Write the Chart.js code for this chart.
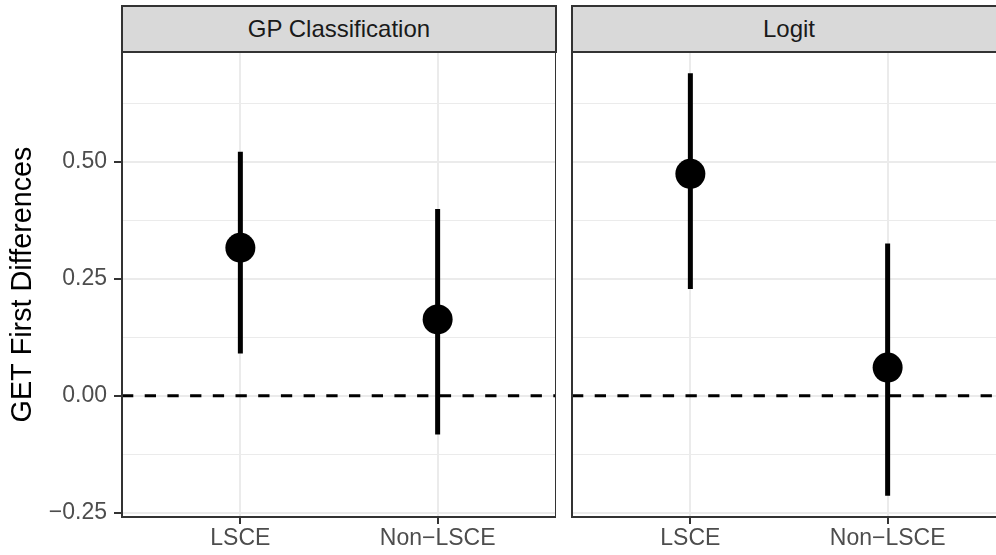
<!DOCTYPE html>
<html>
<head>
<meta charset="utf-8">
<script src="https://cdn.jsdelivr.net/npm/chart.js@4"></script>
<style>
  html, body { margin: 0; padding: 0; background: #ffffff; overflow: hidden; width: 996px; height: 555px; }
  .wrap { position: absolute; top: 0; height: 555px; }
  .strip { position: absolute; top: 5px; height: 48px; box-sizing: border-box; border: 2px solid #333333;
           background: #D9D9D9; color: #1A1A1A; font-family: "Liberation Sans", Arial, sans-serif;
           font-size: 24px; display: flex; align-items: center; justify-content: center; }
</style>
</head>
<body>
<div class="wrap" style="left:0;width:556px;"><canvas id="c1"></canvas></div>
<div class="wrap" style="left:560px;width:446px;"><canvas id="c2"></canvas></div>
<div class="strip" id="s1" style="left:121px;width:436px;"></div>
<div class="strip" id="s2" style="left:571px;width:436px;"></div>
<script>
// ---- data ----
const categories = ['LSCE', 'Non\u2212LSCE'];
const panels = ['GP Classification', 'Logit'];
const gpEstimate = [0.316, 0.163];
const gpLower = [0.090, -0.083];
const gpUpper = [0.521, 0.399];
const logitEstimate = [0.474, 0.060];
const logitLower = [0.228, -0.214];
const logitUpper = [0.689, 0.325];
const yMajorTicks = [-0.25, 0, 0.25, 0.5];
const yMinorTicks = [-0.125, 0.125, 0.375, 0.625];
const yTickLabels = ['\u22120.25', '0.00', '0.25', '0.50'];
const referenceLine = 0;
const yTitle = 'GET First Differences';

// ggplot-like 5% expansion of the shared y range
const allLo = Math.min(...gpLower, ...logitLower);
const allHi = Math.max(...gpUpper, ...logitUpper);
const span = allHi - allLo;
const yMin = allLo - 0.05 * span;
const yMax = allHi + 0.05 * span;

document.getElementById('s1').textContent = panels[0];
document.getElementById('s2').textContent = panels[1];

const FONT = '"Liberation Sans", Arial, sans-serif';
Chart.defaults.font.family = FONT;

const panelPlugin = {
  id: 'panelDeco',
  beforeDatasetsDraw(chart) {
    const {ctx, chartArea, scales} = chart;
    const y = scales.y.getPixelForValue(referenceLine);
    ctx.save();
    ctx.strokeStyle = '#000000';
    ctx.lineWidth = 3;
    ctx.setLineDash([11.3, 11.4]);
    ctx.beginPath();
    ctx.moveTo(chartArea.left, y);
    ctx.lineTo(chartArea.right, y);
    ctx.stroke();
    ctx.restore();
  },
  afterDraw(chart) {
    const {ctx, chartArea} = chart;
    ctx.save();
    ctx.strokeStyle = '#333333';
    ctx.lineWidth = 2;
    ctx.strokeRect(chartArea.left, chartArea.top, chartArea.right - chartArea.left, chartArea.bottom - chartArea.top);
    ctx.restore();
  }
};

function makeDatasets(est, lo, hi) {
  const ds = [];
  categories.forEach((c, i) => {
    ds.push({
      type: 'line',
      data: [{x: i + 1, y: lo[i]}, {x: i + 1, y: hi[i]}],
      borderColor: '#000000',
      borderWidth: 5,
      borderCapStyle: 'butt',
      pointRadius: 0,
      showLine: true,
      order: 2
    });
  });
  ds.push({
    type: 'scatter',
    data: est.map((v, i) => ({x: i + 1, y: v})),
    backgroundColor: '#000000',
    borderColor: '#000000',
    borderWidth: 0,
    pointRadius: 15,
    pointHoverRadius: 15,
    order: 1
  });
  return ds;
}

function makeChart(canvasId, est, lo, hi, showY) {
  const isMajor = (ctx) => ctx.tick && ctx.tick.isMajor;
  return new Chart(document.getElementById(canvasId), {
    type: 'scatter',
    data: { datasets: makeDatasets(est, lo, hi) },
    options: {
      responsive: true,
      maintainAspectRatio: false,
      animation: false,
      events: [],
      layout: { autoPadding: false, padding: { top: 52, left: showY ? 0 : 12, right: 0, bottom: 0 } },
      plugins: { legend: { display: false }, tooltip: { enabled: false } },
      scales: {
        x: {
          type: 'linear',
          min: 0.4,
          max: 2.6,
          afterBuildTicks: (s) => { s.ticks = categories.map((c, i) => ({value: i + 1})); },
          afterFit: (s) => { s.height = 38; },
          border: { display: false },
          grid: { color: '#EBEBEB', lineWidth: 2, tickColor: '#333333', tickWidth: 2, tickLength: 7 },
          ticks: {
            padding: 1,
            color: '#4D4D4D',
            font: { size: 23 },
            maxRotation: 0,
            autoSkip: false,
            callback: (v) => categories[Math.round(v) - 1] || ''
          }
        },
        y: {
          type: 'linear',
          min: yMin,
          max: yMax,
          afterBuildTicks: (s) => {
            s.ticks = yMajorTicks.map(v => ({value: v, isMajor: true}))
              .concat(yMinorTicks.map(v => ({value: v, isMajor: false})))
              .sort((a, b) => a.value - b.value);
          },
          afterFit: (s) => { s.width = showY ? 122 : 0; },
          border: { display: false },
          grid: {
            color: '#EBEBEB',
            lineWidth: (ctx) => isMajor(ctx) ? 2 : 1,
            drawTicks: showY,
            tickColor: (ctx) => isMajor(ctx) ? '#333333' : 'rgba(0,0,0,0)',
            tickWidth: 2,
            tickLength: 8
          },
          ticks: {
            display: showY,
            padding: 7,
            color: '#4D4D4D',
            font: { size: 23 },
            autoSkip: false,
            callback: (v) => {
              const k = yMajorTicks.findIndex(t => Math.abs(t - v) < 1e-9);
              return k >= 0 ? yTickLabels[k] : '';
            }
          },
          title: {
            display: showY,
            text: yTitle,
            color: '#000000',
            font: { size: 28.75 },
            padding: { top: 6, bottom: 0 }
          }
        }
      }
    },
    plugins: [panelPlugin]
  });
}

makeChart('c1', gpEstimate, gpLower, gpUpper, true);
makeChart('c2', logitEstimate, logitLower, logitUpper, false);
</script>
</body>
</html>
